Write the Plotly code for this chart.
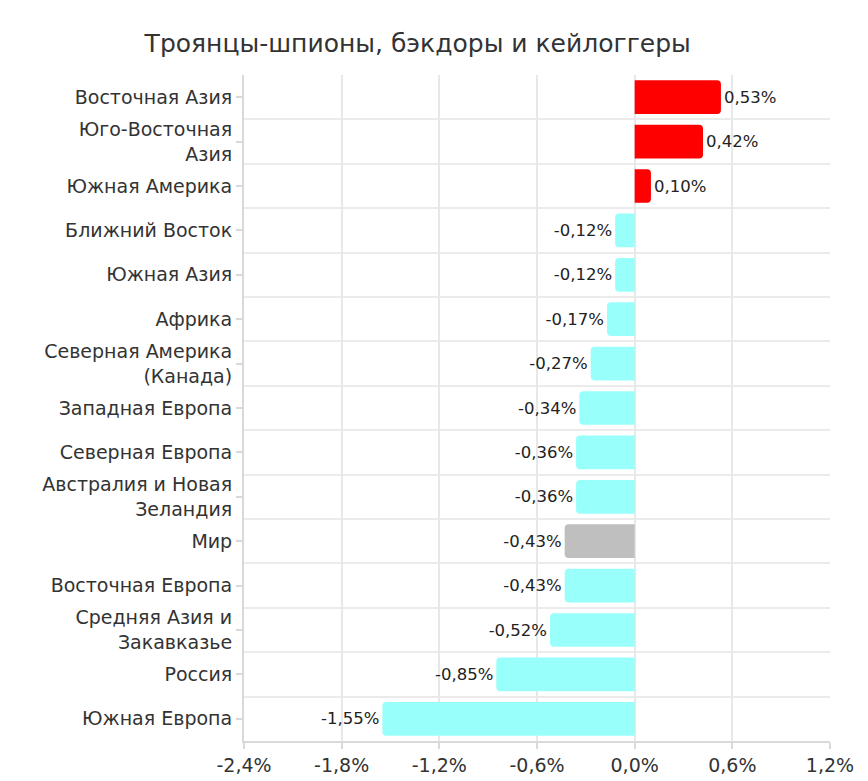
import plotly.graph_objects as go

regions = [
    "Восточная Азия", "Юго-Восточная<br>Азия", "Южная Америка", "Ближний Восток",
    "Южная Азия", "Африка", "Северная Америка<br>(Канада)", "Западная Европа",
    "Северная Европа", "Австралия и Новая<br>Зеландия", "Мир", "Восточная Европа",
    "Средняя Азия и<br>Закавказье", "Россия", "Южная Европа",
]
change = [0.53, 0.42, 0.10, -0.12, -0.12, -0.17, -0.27, -0.34,
          -0.36, -0.36, -0.43, -0.43, -0.52, -0.85, -1.55]
x_ticks = [-2.4, -1.8, -1.2, -0.6, 0.0, 0.6, 1.2]
x_labels = ["-2,4%", "-1,8%", "-1,2%", "-0,6%", "0,0%", "0,6%", "1,2%"]

colors = []
for name, v in zip(regions, change):
    if name == "Мир":
        colors.append("#BFBFBF")
    elif v > 0:
        colors.append("#FF0000")
    else:
        colors.append("#99FFFA")

ypos = list(range(len(regions)))

fig = go.Figure(go.Bar(
    x=change, y=ypos, orientation="h",
    marker=dict(color=colors, cornerradius=4, line=dict(width=0)),
    width=0.76,
    texttemplate="%{x:.2f}%", textposition="outside",
    textfont=dict(size=16.5, color="#222222"),
    cliponaxis=False,
))

fig.update_layout(
    width=868, height=781,
    margin=dict(l=236, r=46, t=67, b=48),
    paper_bgcolor="white", plot_bgcolor="white",
    font=dict(family="DejaVu Sans, sans-serif", color="#333333"),
    separators=", ",
    title=dict(text="Троянцы-шпионы, бэкдоры и кейлоггеры", x=0.472, xanchor="center",
               y=0.955, yanchor="middle", font=dict(size=25, color="#333333")),
    showlegend=False,
)
fig.update_xaxes(
    range=[-2.4, 1.2], tickvals=x_ticks, ticktext=x_labels,
    showgrid=True, gridcolor="#E8E8E8", gridwidth=1.5, zeroline=False,
    showline=True, linecolor="#D9D9D9", linewidth=2,
    ticks="outside", tickcolor="#D9D9D9", ticklen=6, tickwidth=2,
    tickfont=dict(size=19, color="#333333"),
)
fig.update_yaxes(
    range=[len(regions) - 0.5, -0.5], tickvals=ypos, ticktext=regions,
    showgrid=False, zeroline=False,
    minor=dict(tick0=0.5, dtick=1, showgrid=True, gridcolor="#EBEBEB", gridwidth=1.5, ticks=""),
    showline=True, linecolor="#D9D9D9", linewidth=2,
    ticks="outside", tickcolor="#D9D9D9", ticklen=6, tickwidth=2,
    tickfont=dict(size=19, color="#333333"),
)

fig.write_html("out.html")
